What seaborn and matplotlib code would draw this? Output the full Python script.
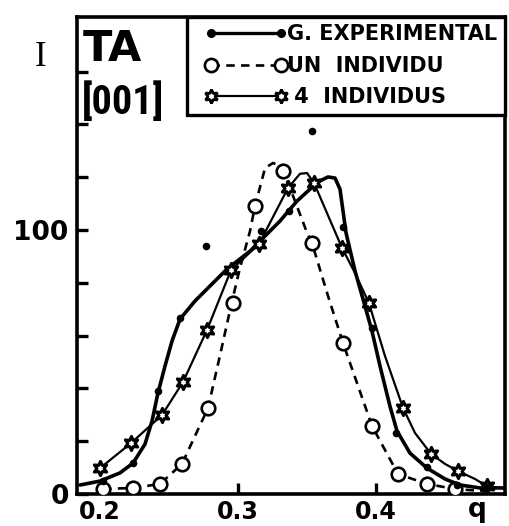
import matplotlib
matplotlib.use("Agg")
import matplotlib.pyplot as plt
from matplotlib import font_manager
from matplotlib.lines import Line2D
from matplotlib.legend_handler import HandlerLine2D
import seaborn as sns

# ---- measured experimental intensity (dots) ----
q_exp = [0.2022, 0.2239, 0.2420, 0.2580, 0.2768, 0.3167, 0.3370, 0.3536,
         0.3761, 0.3971, 0.4145, 0.4370, 0.4587, 0.4804]
i_exp = [5.0, 11.7, 39.0, 66.7, 93.9, 99.6, 107.2, 137.5,
         101.1, 62.9, 23.1, 10.2, 3.4, 2.5]

# smooth experimental envelope
q_exp_curve = [0.1855, 0.2000, 0.2145, 0.2239, 0.2326, 0.2377, 0.2420, 0.2471,
               0.2522, 0.2580, 0.2688, 0.2797, 0.2920, 0.3087, 0.3304, 0.3428,
               0.3522, 0.3594, 0.3652, 0.3703, 0.3739, 0.3761, 0.3783, 0.3848,
               0.3920, 0.3971, 0.4029, 0.4101, 0.4152, 0.4246, 0.4370, 0.4500,
               0.4609, 0.4754, 0.4935]
i_exp_curve = [3.4, 4.9, 8.0, 11.7, 18.9, 27.7, 38.3, 48.5,
               58.0, 66.3, 73.1, 78.8, 85.2, 92.0, 103.4, 111.0,
               115.5, 118.6, 120.1, 119.7, 115.5, 107.2, 98.9, 84.5,
               71.2, 61.7, 48.5, 33.3, 23.9, 15.5, 9.8, 5.7,
               3.4, 2.3, 2.3]

# ---- single-individual calculation (open circles, dashed) ----
q_one = [0.2022, 0.2239, 0.2435, 0.2594, 0.2783, 0.2964, 0.3123, 0.3326,
         0.3536, 0.3761, 0.3971, 0.4159, 0.4370, 0.4572]
i_one = [1.9, 2.3, 3.8, 11.4, 32.6, 72.3, 109.1, 122.3,
         95.1, 57.2, 25.8, 7.6, 3.8, 1.9]

q_one_curve = [0.2022, 0.2239, 0.2435, 0.2594, 0.2783, 0.2880, 0.2957, 0.3014,
               0.3087, 0.3123, 0.3196, 0.3254, 0.3304, 0.3326, 0.3377, 0.3500,
               0.3536, 0.3650, 0.3761, 0.3870, 0.3971, 0.4159, 0.4370, 0.4572,
               0.4800]
i_one_curve = [1.9, 2.3, 3.8, 11.4, 32.6, 55.0, 73.1, 85.6,
               99.6, 109.1, 123.5, 125.4, 124.2, 122.3, 115.9, 99.0,
               95.1, 75.4, 57.2, 40.9, 25.8, 7.6, 3.8, 1.9,
               1.0]

# ---- four-individual calculation (stars) ----
q_four = [0.2000, 0.2225, 0.2449, 0.2601, 0.2775, 0.2949, 0.3152, 0.3362,
          0.3551, 0.3754, 0.3949, 0.4196, 0.4399, 0.4594, 0.4804]
i_four = [9.8, 19.3, 29.9, 42.4, 62.1, 84.8, 94.7, 115.9,
          117.8, 93.2, 72.3, 32.6, 15.2, 8.7, 3.0]

q_four_curve = [0.2000, 0.2225, 0.2449, 0.2601, 0.2775, 0.2949, 0.3152, 0.3362,
                0.3449, 0.3500, 0.3551, 0.3754, 0.3848, 0.3949, 0.4065, 0.4196,
                0.4283, 0.4399, 0.4500, 0.4594, 0.4717, 0.4804, 0.4935]
i_four_curve = [9.8, 19.3, 29.9, 42.4, 62.1, 84.8, 94.7, 115.9,
                121.3, 121.6, 117.8, 93.2, 83.7, 72.3, 52.3, 32.6,
                23.1, 15.2, 11.4, 8.7, 5.7, 3.0, 2.0]

series_labels = ["G. EXPERIMENTAL", "UN  INDIVIDU", " 4  INDIVIDUS"]
x_ticks = [0.2, 0.3, 0.4]
x_tick_labels = ["0.2", "0.3", "0.4"]
y_ticks = [0, 20, 40, 60, 80, 100, 120, 140, 160]
y_tick_labels = ["0", "", "", "", "", "100", "", "", ""]


def narrow_bold_font():
    """Return (family, stretch) of a condensed bold face if one is installed."""
    options = [("Liberation Sans Narrow", "normal"),
               ("Roboto Condensed", "normal"),
               ("Open Sans Condensed", "normal"),
               ("DejaVu Sans", "condensed"),
               ("Open Sans", "condensed")]
    for fam, stretch in options:
        prop = font_manager.FontProperties(family=fam, weight="bold", stretch=stretch)
        try:
            path = font_manager.findfont(prop, fallback_to_default=False)
        except ValueError:
            continue
        name = path.lower()
        if stretch == "normal" or "condensed" in name or "narrow" in name:
            return fam, stretch
    return None


sns.set_theme(style="ticks")
plt.rcParams["font.family"] = ["DejaVu Sans"]
for key in ["text.color", "axes.labelcolor", "xtick.color", "ytick.color",
            "axes.edgecolor"]:
    plt.rcParams[key] = "black"
narrow = narrow_bold_font()

fig = plt.figure(figsize=(5.09, 5.26), dpi=100)
ax = fig.add_axes([77 / 509, 1 - 494 / 526, 428 / 509, 477 / 526])
ax.set_facecolor("white")
fig.patch.set_facecolor("white")

# curves
sns.lineplot(x=q_one_curve, y=i_one_curve, sort=False, estimator=None, ax=ax,
             color="black", lw=1.9, linestyle=(0, (3.2, 2.4)), zorder=2)
sns.lineplot(x=q_exp_curve, y=i_exp_curve, sort=False, estimator=None, ax=ax,
             color="black", lw=2.6, zorder=2)
sns.lineplot(x=q_four_curve, y=i_four_curve, sort=False, estimator=None, ax=ax,
             color="black", lw=1.6, zorder=2)

# markers
sns.scatterplot(x=q_one, y=i_one, ax=ax, marker="o", s=95, color="white",
                edgecolor="black", linewidth=1.9, zorder=4)
sns.scatterplot(x=q_four, y=i_four, ax=ax, marker=(6, 1, 0), s=105, color="white",
                edgecolor="black", linewidth=2.2, zorder=5)
sns.scatterplot(x=q_exp, y=i_exp, ax=ax, marker="o", s=30, color="black",
                edgecolor="black", linewidth=0, zorder=6)

ax.set_xlim(0.1833, 0.4935)
ax.set_ylim(0, 180.7)

for side in ["left", "right", "top", "bottom"]:
    ax.spines[side].set_visible(True)
    ax.spines[side].set_linewidth(2.6)
    ax.spines[side].set_color("black")

ax.set_xticks(x_ticks, x_tick_labels, fontsize=17, fontweight="bold")
ax.set_yticks(y_ticks, y_tick_labels, fontsize=19, fontweight="bold")
ax.tick_params(axis="both", direction="in", length=8, width=2.4, colors="black")
ax.tick_params(axis="x", pad=4)
ax.tick_params(axis="y", pad=6)
ax.set_xlabel("")
ax.set_ylabel("")

# axis labels
ax.text(0.935, -0.006, "q", transform=ax.transAxes, ha="center", va="top",
        fontsize=19, fontweight="bold", color="black")
fig.text(41 / 509, 1 - 58 / 526, "I", ha="center", va="center",
         fontsize=25, family="Liberation Serif", color="black")

# panel labels
ax.text(0.014, 0.933, "TA", transform=ax.transAxes, ha="left", va="center",
        fontsize=31, fontweight="bold", color="black")
if narrow:
    ax.text(0.012, 0.822, "[001]", transform=ax.transAxes, ha="left", va="center",
            fontsize=29, fontweight="bold", family=narrow[0], fontstretch=narrow[1],
            color="black")
else:
    ax.text(0.012, 0.822, "[001]", transform=ax.transAxes, ha="left", va="center",
            fontsize=22, fontweight="bold", color="black")

# legend
h_exp = Line2D([], [], color="black", lw=2.4, marker="o", ms=5.5)
h_one = Line2D([], [], color="black", lw=1.9, linestyle=(0, (3.2, 2.4)), marker="o",
               ms=9.5, mfc="white", mec="black", mew=1.9)
h_four = Line2D([], [], color="black", lw=1.6, marker=(6, 1, 0), ms=10,
                mfc="white", mec="black", mew=2.0)
handler = HandlerLine2D(marker_pad=0.77, numpoints=2)
leg = ax.legend([h_exp, h_one, h_four], series_labels, loc="upper right",
                bbox_to_anchor=(1.0, 1.0), borderaxespad=0, numpoints=2,
                handlelength=4.9, handletextpad=-0.45, labelspacing=0.55,
                borderpad=0.36, frameon=True, fancybox=False, framealpha=1,
                edgecolor="black", facecolor="white",
                prop={"weight": "bold", "size": 15},
                handler_map={h_exp: handler, h_one: handler, h_four: handler})
leg.get_frame().set_linewidth(2.4)
for t in leg.get_texts():
    t.set_color("black")
leg.set_zorder(10)

fig.savefig("out.png", dpi=100, facecolor="white")
